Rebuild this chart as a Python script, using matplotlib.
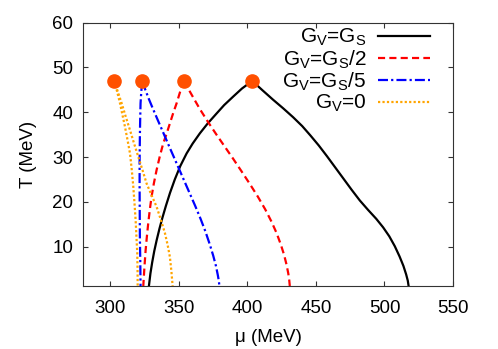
import matplotlib
matplotlib.use("Agg")
import matplotlib.pyplot as plt

plt.rcParams['font.family'] = ['Liberation Sans', 'DejaVu Sans']
plt.rcParams['mathtext.fontset'] = 'custom'
plt.rcParams['mathtext.rm'] = 'Liberation Sans'
plt.rcParams['mathtext.it'] = 'Liberation Sans:italic'

# critical end points (mu, T)
cep_mu = [403.5, 353.6, 323.2, 302.8]
cep_T = [47, 47, 47, 47]

# G_V = G_S : two branches from the CEP down to low T
gs_left_mu = [403.5, 396, 389.6, 383, 377.4, 371, 365.3, 360, 355.6, 351, 347, 343.5, 340.5, 338, 335.8, 333.8, 332, 330.5, 329.2, 328.1]
gs_left_T = [47, 45.3, 43.5, 41.6, 39.7, 37.5, 35.3, 33, 30.8, 28, 25, 22, 19.1, 16.5, 14, 11.5, 9, 6.5, 4, 1.2]
gs_right_mu = [403.5, 411, 418.7, 426, 433.3, 440, 446, 452, 458, 464, 470, 476, 482, 488, 494, 499, 503.5, 507.5, 511, 513.8, 515.8, 517, 517.6]
gs_right_T = [47, 44.9, 42.8, 40.9, 38.9, 36.9, 34.8, 32.6, 30.2, 27.7, 25.2, 22.7, 20.3, 18.2, 16.2, 14.3, 12.3, 10.1, 7.8, 5.7, 3.8, 2.4, 1.2]

# G_V = G_S/2
g2_left_mu = [353.6, 350.8, 348.3, 345.8, 343.4, 341, 338.5, 336, 333.7, 331.7, 330.0, 328.7, 327.6, 326.6, 325.7, 324.8, 324.0]
g2_left_T = [47, 44.5, 42, 39.8, 37.5, 35.2, 33.0, 30.1, 27.1, 24.1, 21.1, 18.1, 15.2, 12.2, 9.2, 5.3, 1.2]
g2_right_mu = [353.6, 359.5, 365.3, 371.3, 377.4, 383.5, 389.6, 395.5, 401.5, 407.5, 413, 417.5, 421.3, 424.3, 426.7, 428.5, 429.8, 430.5, 430.9]
g2_right_T = [47, 43.8, 40.7, 37.8, 35, 32.3, 29.6, 26.9, 24.1, 21.2, 18.3, 15.6, 13, 10.5, 8.2, 6.0, 4.0, 2.5, 1.2]

# G_V = G_S/5
g5_left_mu = [323.2, 322.5, 322.0, 321.7, 321.5, 321.3, 321.3, 321.4, 321.5, 321.8, 322.0]
g5_left_T = [47, 44.5, 42, 38, 34.5, 29, 23.4, 17.8, 12.2, 6.8, 1.2]
g5_right_mu = [323.2, 325.5, 328, 331, 334.5, 338.2, 342, 346, 350, 354, 358, 362, 365.8, 369.3, 372.4, 375, 377, 378.4, 379.2, 379.5]
g5_right_T = [47, 45, 43, 40.8, 38.3, 35.7, 33, 30.2, 27.4, 24.6, 21.8, 19, 16.2, 13.4, 10.6, 8, 5.7, 3.6, 2.2, 1.2]

# G_V = 0
g0_left_mu = [302.8, 305, 307, 308.8, 310.6, 312.5, 314.3, 315.6, 316.7, 317.6, 318.4, 319.0, 319.6, 319.8, 319.9]
g0_left_T = [47, 44.5, 42, 39.4, 36.8, 33.8, 30.8, 27.1, 23.4, 19.6, 15.9, 12.2, 8.5, 5, 1.2]
g0_right_mu = [302.8, 305.5, 308.2, 311.2, 314.3, 317.3, 320.3, 323.4, 326.4, 330, 333.7, 336.8, 339.8, 341.8, 343.4, 344.5, 345.4]
g0_right_T = [47, 44.5, 42, 39, 36, 33, 30.1, 27.1, 24.1, 21.5, 18.9, 16, 13, 10.3, 7.7, 4.5, 1.2]

fig = plt.figure(figsize=(4.98, 3.49), dpi=100)
ax = fig.add_axes([83/498, 1-286/349, 370/498, 263.3/349])

lw = 1.6
ax.plot(gs_left_mu, gs_left_T, color='black', lw=lw, label=r'G$_\mathrm{V}$=G$_\mathrm{S}$')
ax.plot(gs_right_mu, gs_right_T, color='black', lw=lw)
ax.plot(g2_left_mu, g2_left_T, color='#ff0000', lw=lw, dashes=(3.2, 1.9), label=r'G$_\mathrm{V}$=G$_\mathrm{S}$/2')
ax.plot(g2_right_mu, g2_right_T, color='#ff0000', lw=lw, dashes=(3.2, 1.9))
ax.plot(g5_left_mu, g5_left_T, color='#0000ff', lw=lw, dashes=(4.5, 1.4, 1, 1.4), label=r'G$_\mathrm{V}$=G$_\mathrm{S}$/5')
ax.plot(g5_right_mu, g5_right_T, color='#0000ff', lw=lw, dashes=(4.5, 1.4, 1, 1.4))
ax.plot(g0_left_mu, g0_left_T, color='#ffa500', lw=lw, dashes=(1, 1), label=r'G$_\mathrm{V}$=0')
ax.plot(g0_right_mu, g0_right_T, color='#ffa500', lw=lw, dashes=(1, 1))

ax.plot(cep_mu, cep_T, 'o', color='#ff5000', ms=9.5, zorder=5)

ax.set_xlim(280, 550)
ax.set_ylim(1.2, 60)
ax.set_xticks([300, 350, 400, 450, 500, 550])
ax.set_yticks([10, 20, 30, 40, 50, 60])
ax.tick_params(direction='in', length=3.5, width=0.8, top=True, right=True,
               labelsize=13.5, pad=7, colors='#333333', labelcolor='black')
ax.tick_params(axis='x', pad=10)
for s in ax.spines.values():
    s.set_color('#333333')
    s.set_linewidth(0.8)

ax.set_xlabel('μ (MeV)', fontsize=13.5, labelpad=9)
ax.set_ylabel('T (MeV)', fontsize=13.5, labelpad=11)

ax.legend(loc='upper right', bbox_to_anchor=(430/498, 1-27/349), bbox_transform=fig.transFigure,
          frameon=False, markerfirst=False, fontsize=15, handlelength=2.5,
          handletextpad=0.55, labelspacing=0.0, borderpad=0, borderaxespad=0)

plt.savefig("out.png", dpi=100)
